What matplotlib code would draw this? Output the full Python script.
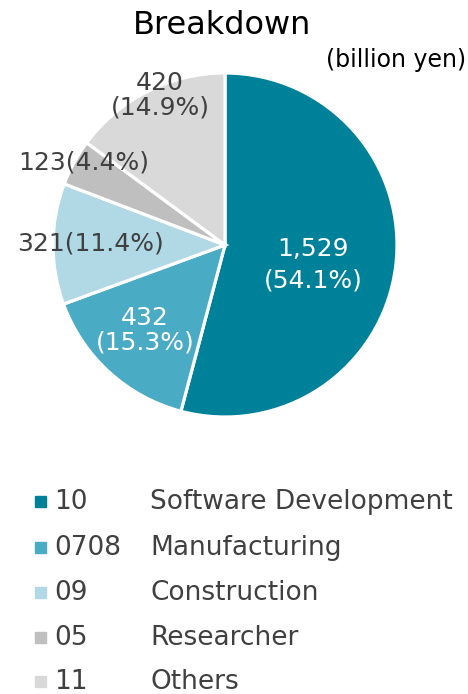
import matplotlib
matplotlib.use("Agg")
import matplotlib.pyplot as plt
import numpy as np

codes = ["10", "0708", "09", "05", "11"]
names = ["Software Development", "Manufacturing", "Construction", "Researcher", "Others"]
values = [1529, 432, 321, 123, 420]
percents = [54.1, 15.3, 11.4, 4.4, 14.9]
colors = ["#00819a", "#4aabc5", "#b1d9e5", "#bfbfbf", "#d9d9d9"]

W, H = 468, 694
fig = plt.figure(figsize=(W / 100, H / 100), dpi=100)
plt.rcParams['font.family'] = ['DejaVu Sans']
txt = "#404040"

cx, cy, R = 225, 245, 172
ax = fig.add_axes([(cx - R) / W, (H - cy - R) / H, 2 * R / W, 2 * R / H])
wedges, _ = ax.pie(values, colors=colors, startangle=90, counterclock=False,
                   radius=1.0, wedgeprops=dict(edgecolor="white", linewidth=2.3))
ax.set_xlim(-1, 1)
ax.set_ylim(-1, 1)
ax.set_aspect("equal")
ax.axis("off")

fs = 18
# label placement (radius, angle, layout, colour, linespacing)
place = [(0.525, -12.8, "two", "white", 1.4),
         (0.68, -133.3, "two", "white", 1.0),
         (0.78, 179.3, "one", txt, 1.0),
         (0.95, 149.8, "one", txt, 1.0),
         (0.95, 113.4, "two", txt, 1.0)]
for w, v, p, (r, ang, lay, col, ls) in zip(wedges, values, percents, place):
    x, y = r * np.cos(np.radians(ang)), r * np.sin(np.radians(ang))
    if lay == "two":
        s = f"{v:,}\n({p}%)"
        ax.text(x, y, s, ha="center", va="center", color=col, fontsize=fs,
                linespacing=ls)
    else:
        s = f"{v:,}({p}%)"
        ax.text(x, y, s, ha="center", va="center", color=col, fontsize=fs)

fig.text(222 / W, 1 - 25 / H, "Breakdown", ha="center", va="center",
         fontsize=23, color="black")
fig.text(466 / W, 1 - 60 / H, "(billion yen)", ha="right", va="center",
         fontsize=17, color="black")

fs_leg = 19
rows_y = [502, 548, 593, 638, 682]
for code, name, col, yy in zip(codes, names, colors, rows_y):
    fig.patches.append(plt.Rectangle((35 / W, 1 - (yy + 5) / H), 11 / W, 11 / H,
                                     transform=fig.transFigure, color=col))
    fig.text(54 / W, 1 - yy / H, code, ha="left", va="center", fontsize=fs_leg, color=txt)
    fig.text(150 / W, 1 - yy / H, name, ha="left", va="center", fontsize=fs_leg, color=txt)

fig.savefig("out.png", dpi=100)
